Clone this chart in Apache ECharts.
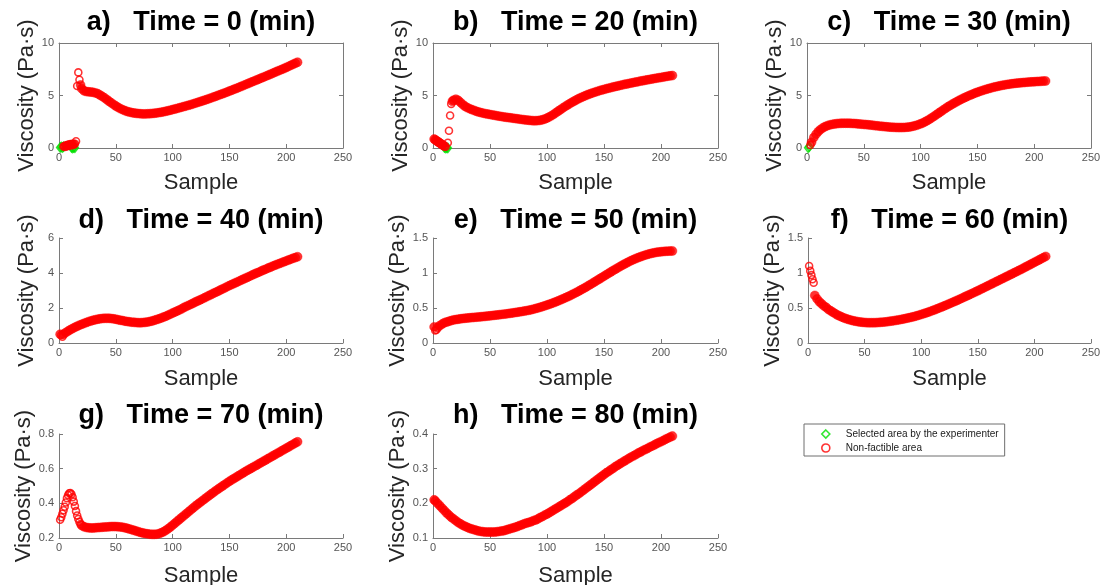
<!DOCTYPE html>
<html><head><meta charset="utf-8">
<script src="https://cdn.jsdelivr.net/npm/echarts@6/dist/echarts.min.js"></script>
<style>html,body{margin:0;padding:0;background:#fff}#c{width:1103px;height:585px}</style>
</head><body><div id="c"></div>
<script>
// ---------- data ----------
const panelTitles = ['a)   Time = 0 (min)','b)   Time = 20 (min)','c)   Time = 30 (min)','d)   Time = 40 (min)',
  'e)   Time = 50 (min)','f)   Time = 60 (min)','g)   Time = 70 (min)','h)   Time = 80 (min)'];
const xLabel = 'Sample';
const yLabel = 'Viscosity (Pa\u00b7s)';
const greenName = 'Selected area by the experimenter';
const redName = 'Non-factible area';
const xTicks = [0, 50, 100, 150, 200, 250];
const yRanges = [[0,10,5],[0,10,5],[0,10,5],[0,6,2],[0,1.5,0.5],[0,1.5,0.5],[0.2,0.8,0.2],[0.1,0.4,0.1]];
const bandStep = 2;

// a) Time = 0
const aGreen = [[1,0.05],[2,0.1],[3,0.05],[4,0.12],[11,0.05],[12,0.0],[13,0.05],[14,0.02]];
const aRedSolid = [[5,0.15],[6,0.18],[7,0.22],[8,0.26],[9,0.28],[10,0.32],[11,0.3],[12,0.36],[13,0.35],[19,6.0]];
const aRedOpen = [[4,0.15],[14,0.4],[15,0.65],[16,5.9],[17,7.2],[18,6.5]];
const aBandStart = 20;
const aBand = [5.65,5.45,5.38,5.35,5.33,5.3,5.25,5.18,5.05,4.92,
  4.78,4.62,4.45,4.3,4.15,4.0,3.87,3.75,3.65,3.56,
  3.48,3.42,3.37,3.33,3.3,3.28,3.26,3.25,3.25,3.26,
  3.27,3.29,3.31,3.34,3.37,3.41,3.45,3.5,3.55,3.6,
  3.66,3.71,3.77,3.83,3.89,3.95,4.01,4.07,4.13,4.2,
  4.27,4.34,4.41,4.48,4.55,4.62,4.7,4.77,4.85,4.93,
  5.01,5.09,5.17,5.25,5.33,5.42,5.5,5.59,5.67,5.76,
  5.85,5.94,6.03,6.12,6.21,6.3,6.39,6.48,6.57,6.66,
  6.75,6.84,6.93,7.02,7.11,7.21,7.3,7.39,7.48,7.57,
  7.67,7.77,7.87,7.97,8.07,8.17];

// b) Time = 20
const bGreen = [[10,0.05],[11,0.0],[12,0.02],[13,0.0]];
const bRedSolid = [[1,0.85],[2,0.78],[3,0.7],[4,0.62],[5,0.55],[6,0.47],[7,0.4],[8,0.32],[9,0.25],[10,0.18],[17,4.45]];
const bRedOpen = [[11,0.12],[13,0.5],[14,1.65],[15,3.1],[16,4.2]];
const bBandStart = 18;
const bBand = [4.55,4.65,4.55,4.35,4.15,3.98,3.85,3.75,3.66,3.58,
  3.5,3.43,3.37,3.32,3.27,3.23,3.19,3.15,3.11,3.07,
  3.03,3.0,2.96,2.93,2.9,2.87,2.84,2.81,2.78,2.75,
  2.72,2.69,2.66,2.64,2.62,2.6,2.6,2.61,2.64,2.69,
  2.76,2.85,2.96,3.08,3.22,3.37,3.52,3.67,3.82,3.96,
  4.1,4.23,4.36,4.48,4.6,4.71,4.81,4.91,5.0,5.09,
  5.17,5.25,5.32,5.39,5.46,5.52,5.58,5.64,5.7,5.75,
  5.81,5.86,5.91,5.96,6.01,6.06,6.1,6.15,6.19,6.24,
  6.28,6.32,6.37,6.41,6.45,6.49,6.53,6.57,6.61,6.65,
  6.69,6.72,6.76,6.8,6.84,6.87,6.9];

// c) Time = 30
const cGreen = [[1,0.02],[2,0.12]];
const cRedSolid = [];
const cRedOpen = [[3,0.3]];
const cBandStart = 4;
const cBand = [0.55,1.0,1.32,1.57,1.77,1.92,2.04,2.13,2.2,2.25,
  2.29,2.32,2.34,2.35,2.36,2.36,2.36,2.35,2.34,2.33,
  2.31,2.29,2.27,2.25,2.23,2.21,2.18,2.16,2.13,2.11,
  2.08,2.06,2.04,2.02,2.0,1.98,1.97,1.96,1.95,1.95,
  1.95,1.96,1.98,2.0,2.04,2.09,2.15,2.22,2.3,2.39,
  2.5,2.62,2.75,2.89,3.03,3.18,3.33,3.48,3.63,3.78,
  3.92,4.05,4.18,4.3,4.42,4.54,4.65,4.76,4.86,4.96,
  5.05,5.14,5.23,5.31,5.39,5.46,5.53,5.6,5.66,5.72,
  5.78,5.83,5.88,5.93,5.97,6.01,6.05,6.08,6.11,6.14,
  6.17,6.19,6.21,6.23,6.25,6.27,6.29,6.3,6.31,6.33,
  6.34,6.35,6.37,6.38];

// d) Time = 40
const dGreen = [];
const dRedSolid = [[1,0.5],[4,0.5]];
const dRedOpen = [[2,0.45],[3,0.36]];
const dBandStart = 6;
const dBand = [0.6,0.68,0.76,0.83,0.9,0.96,1.02,1.07,1.12,1.17,
  1.22,1.26,1.3,1.33,1.36,1.38,1.4,1.41,1.41,1.41,
  1.4,1.38,1.36,1.33,1.3,1.28,1.25,1.23,1.21,1.19,
  1.18,1.17,1.16,1.16,1.17,1.18,1.2,1.23,1.26,1.3,
  1.34,1.38,1.43,1.48,1.53,1.59,1.65,1.71,1.77,1.83,
  1.89,1.95,
  2.03,2.09,2.15,2.21,2.27,2.34,2.4,2.46,2.52,2.58,
  2.65,2.71,2.77,2.84,2.9,2.96,3.03,3.09,3.15,3.22,
  3.28,3.34,3.4,3.46,3.52,3.58,3.64,3.7,3.76,3.82,
  3.88,3.94,4.0,4.05,4.11,4.17,4.22,4.28,4.33,4.39,
  4.44,4.49,4.54,4.59,4.64,4.69,4.74,4.79,4.84,4.88,
  4.93];

// e) Time = 50
const eGreen = [];
const eRedSolid = [[1,0.23]];
const eRedOpen = [[2,0.18],[3,0.19]];
const eBandStart = 4;
const eBand = [0.22,0.25,0.27,0.29,0.3,0.31,0.32,0.33,0.335,0.34,
  0.345,0.35,0.353,0.356,0.36,0.363,0.366,0.369,0.372,0.375,
  0.378,0.381,0.384,0.388,0.392,0.396,0.4,0.404,0.408,0.412,
  0.416,0.42,0.425,0.43,0.435,0.44,0.445,0.45,0.456,0.462,
  0.468,0.475,0.483,
  0.492,0.501,0.51,0.52,0.531,0.542,0.553,0.565,0.577,0.59,
  0.603,0.617,0.631,0.645,0.66,0.675,0.692,0.708,0.725,0.742,
  0.76,0.778,0.797,0.816,0.835,0.855,0.875,0.895,0.915,0.935,
  0.955,0.975,0.995,1.015,1.035,1.054,1.073,1.092,1.11,1.128,
  1.145,1.162,1.178,1.193,1.207,1.22,1.232,1.244,1.255,1.265,
  1.274,1.282,1.289,1.295,1.3,1.304,1.307,1.31,1.312,1.313,
  1.315];

// f) Time = 60
const fGreen = [];
const fRedSolid = [];
const fRedOpen = [[1,1.1],[2,1.03],[3,0.97],[4,0.91],[5,0.86]];
const fBandStart = 6;
const fBand = [0.68,0.63,0.59,0.56,0.53,0.51,0.48,0.46,0.44,0.42,
  0.4,0.385,0.37,0.357,0.345,0.335,0.326,0.318,0.311,0.305,
  0.3,0.296,0.293,0.291,0.29,0.29,0.29,0.291,0.293,0.295,
  0.298,0.301,0.305,0.309,0.314,0.319,0.324,0.33,0.336,0.342,
  0.349,0.356,0.363,0.371,0.379,0.388,0.398,0.408,0.418,0.429,
  0.44,0.451,0.463,0.475,0.488,0.501,0.514,0.527,0.541,0.555,
  0.569,0.583,0.597,0.611,0.626,0.641,0.656,0.671,0.686,0.701,
  0.716,0.731,0.747,0.762,0.778,0.794,0.81,0.826,0.842,0.858,
  0.874,0.89,0.906,0.922,0.938,0.954,0.97,0.986,1.002,1.018,
  1.034,1.05,1.067,1.084,1.101,1.118,1.135,1.152,1.169,1.186,
  1.203,1.22,1.237];

// g) Time = 70
const gGreen = [];
const gRedSolid = [[20,0.272],[22,0.265],[24,0.261]];
const gRedOpen = [[1,0.305],[2,0.32],[3,0.34],[4,0.36],[5,0.38],[6,0.405],[7,0.43],[8,0.448],[9,0.458],[10,0.46],[11,0.452],[12,0.435],[13,0.41],[14,0.385],[15,0.355],[16,0.33],[17,0.31],[18,0.293],[19,0.28]];
const gBandStart = 26;
const gBand = [0.259,0.258,0.258,0.259,0.26,0.261,0.262,0.263,0.264,0.265,
  0.266,0.266,0.266,0.265,0.264,0.262,0.259,0.256,0.252,0.248,
  0.244,0.24,0.236,0.232,0.229,0.226,0.224,0.222,0.221,0.221,
  0.222,0.225,0.23,0.236,0.244,0.253,0.263,0.274,0.285,0.296,
  0.307,0.318,0.329,0.34,0.351,0.362,0.373,0.384,0.394,0.404,
  0.414,0.424,0.434,0.444,0.454,0.463,0.473,0.482,0.491,0.5,
  0.509,0.518,0.527,0.535,0.543,0.551,0.559,0.567,0.575,0.583,
  0.591,0.598,0.605,0.613,0.62,0.628,0.635,0.643,0.65,0.658,
  0.665,0.673,0.68,0.688,0.695,0.703,0.71,0.718,0.725,0.733,
  0.74,0.748,0.755];

// h) Time = 80
const hGreen = [];
const hRedSolid = [[1,0.21]];
const hRedOpen = [];
const hBandStart = 2;
const hBand = [0.207,0.2,0.193,0.186,0.179,0.172,0.166,0.16,0.155,0.15,
  0.145,0.141,0.137,0.134,0.131,0.128,0.126,0.124,0.122,0.12,
  0.119,0.118,0.117,0.117,0.117,0.117,0.117,0.118,0.119,0.12,
  0.121,0.123,0.125,0.127,0.129,0.131,0.133,0.136,0.138,0.141,
  0.143,0.145,0.147,0.15,
  0.152,0.155,0.159,0.162,0.166,0.169,0.173,0.177,0.181,0.185,
  0.189,0.193,0.197,0.201,0.205,0.21,0.214,0.219,0.224,0.228,
  0.233,0.238,0.243,0.248,0.253,0.258,0.263,0.268,0.273,0.278,
  0.283,0.288,0.292,0.297,0.301,0.306,0.31,0.314,0.318,0.322,
  0.326,0.33,0.334,0.337,0.341,0.345,0.348,0.352,0.355,0.358,
  0.362,0.365,0.368,0.372,0.375,0.378,0.381,0.385,0.388,0.391,
  0.394];

// ---------- layout / style ----------
const FONT = '"Liberation Sans", Arial, sans-serif';
const AXIS = '#7a7a7a', TICKLAB = '#555555', NAMECOL = '#262626';
const RED = '#ff0000', GREEN = '#00e000';
const panels = [
  {g:aGreen, q:aRedSolid, r:aRedOpen, s:aBandStart, b:aBand, rect:[59,43,284,105], box:true, xg:24},
  {g:bGreen, q:bRedSolid, r:bRedOpen, s:bBandStart, b:bBand, rect:[433,43,285,105], box:true, xg:24},
  {g:cGreen, q:cRedSolid, r:cRedOpen, s:cBandStart, b:cBand, rect:[807,43,284,105], box:true, xg:24},
  {g:dGreen, q:dRedSolid, r:dRedOpen, s:dBandStart, b:dBand, rect:[59,238,284,105], box:false, xg:25},
  {g:eGreen, q:eRedSolid, r:eRedOpen, s:eBandStart, b:eBand, rect:[433,238,285,105], box:false, xg:25},
  {g:fGreen, q:fRedSolid, r:fRedOpen, s:fBandStart, b:fBand, rect:[808,238,283,105], box:false, xg:25},
  {g:gGreen, q:gRedSolid, r:gRedOpen, s:gBandStart, b:gBand, rect:[59,434,284,104], box:false, xg:27},
  {g:hGreen, q:hRedSolid, r:hRedOpen, s:hBandStart, b:hBand, rect:[433,434,285,104], box:false, xg:27}
];
const titleTops = [9, 207, 402];

const grids = [], xAxes = [], yAxes = [], series = [], titles = [];
const redStyle = {color:'rgba(255,0,0,0)', borderColor:RED, borderWidth:1.6};
const bandStyle = {color:RED, borderColor:RED, borderWidth:0.5};
const greenStyle = {color:'rgba(0,0,0,0)', borderColor:GREEN, borderWidth:1.6};

panels.forEach((p, i) => {
  const [l, t, w, h] = p.rect;
  const [ymin, ymax, ystep] = yRanges[i];
  grids.push({left:l, top:t, width:w, height:h, outerBoundsMode:'none', containLabel:false});
  titles.push({text:panelTitles[i], left:l + w/2, top:titleTops[Math.floor(i/3)], textAlign:'center', padding:0,
    textStyle:{fontSize:27, fontWeight:'bold', color:'#000', fontFamily:FONT}});
  const xi = xAxes.length, yi = yAxes.length;
  const common = {gridIndex:i, type:'value', splitLine:{show:false},
    axisLine:{show:true, onZero:false, lineStyle:{color:AXIS, width:1}},
    axisTick:{show:true, inside:true, length:4, lineStyle:{color:AXIS, width:1}}};
  xAxes.push(Object.assign({}, common, {position:'bottom', min:xTicks[0], max:xTicks[xTicks.length-1], interval:xTicks[1]-xTicks[0],
    axisLabel:{fontSize:11, color:TICKLAB, margin:4, fontFamily:FONT},
    name:xLabel, nameLocation:'middle', nameGap:p.xg, nameTextStyle:{fontSize:22, color:NAMECOL, fontFamily:FONT}}));
  yAxes.push(Object.assign({}, common, {position:'left', min:ymin, max:ymax, interval:ystep,
    axisLabel:{fontSize:11, color:TICKLAB, margin:5, fontFamily:FONT},
    name:yLabel, nameLocation:'middle', nameRotate:90, nameGap:21, nameTextStyle:{fontSize:22, color:NAMECOL, fontFamily:FONT}}));
  if (p.box) {
    xAxes.push(Object.assign({}, common, {position:'top', min:xTicks[0], max:xTicks[xTicks.length-1], interval:xTicks[1]-xTicks[0], axisLabel:{show:false}}));
    yAxes.push(Object.assign({}, common, {position:'right', min:ymin, max:ymax, interval:ystep, axisLabel:{show:false}}));
  }
  const band = p.b.map((v, k) => [p.s + k*bandStep, v]);
  series.push({type:'scatter', name:greenName, xAxisIndex:xi, yAxisIndex:yi, data:p.g,
    symbol:'diamond', symbolSize:[7,9], itemStyle:greenStyle, silent:true, animation:false});
  series.push({type:'scatter', name:redName, xAxisIndex:xi, yAxisIndex:yi, data:p.q.concat(band),
    symbol:'circle', symbolSize:9, itemStyle:bandStyle, silent:true, animation:false});
  series.push({type:'scatter', name:redName, xAxisIndex:xi, yAxisIndex:yi, data:p.r,
    symbol:'circle', symbolSize:7, itemStyle:redStyle, silent:true, animation:false});
});

const chart = echarts.init(document.getElementById('c'), null, {renderer:'canvas'});
chart.setOption({
  animation:false,
  backgroundColor:'#ffffff',
  title:titles,
  grid:grids,
  xAxis:xAxes,
  yAxis:yAxes,
  legend:{
    orient:'vertical', left:804, top:424, padding:[3,6,1,17], itemGap:0,
    itemWidth:8, itemHeight:8, selectedMode:false,
    borderColor:'#6e6e6e', borderWidth:1, backgroundColor:'#ffffff',
    textStyle:{fontSize:10, color:'#1a1a1a', fontFamily:FONT, lineHeight:14, padding:[0,0,0,11]},
    data:[
      {name:greenName, icon:'diamond', itemStyle:greenStyle},
      {name:redName, icon:'circle', itemStyle:redStyle}
    ]
  },
  series:series
});
</script>
</body></html>
